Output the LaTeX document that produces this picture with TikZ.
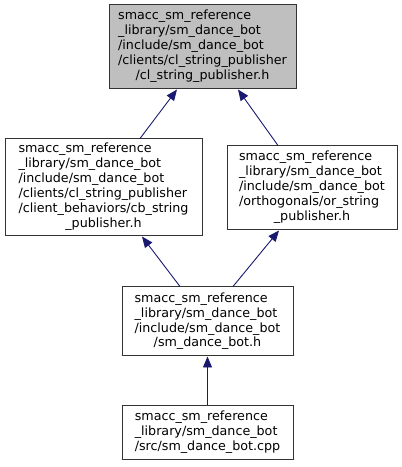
\documentclass[tikz,border=0pt]{standalone}
\usepackage{fontspec}
\setmainfont{DejaVu Sans}
\usepackage{xcolor}
\usepackage{tikz}
\usetikzlibrary{arrows.meta, positioning, calc}

\definecolor{edgeblue}{RGB}{25,25,112}
\definecolor{topgray}{RGB}{191,191,191}

% lines flush left, last line centred
\newcommand{\fname}[2]{\begin{tabular}{@{}l@{}}#1\\\multicolumn{1}{@{}c@{}}{#2}\end{tabular}}

\tikzset{
    filebox/.style={draw=black!80, line width=1pt, fill=white, inner sep=0pt,
        font=\fontsize{12.7}{15}\selectfont},
    incedge/.style={draw=edgeblue, line width=0.9pt, -{Triangle[length=11pt, width=9pt]}}
}

\begin{document}
\begin{tikzpicture}[x=1pt, y=1pt]
        \useasboundingbox (0,0) rectangle (402,467);

        % Top row
        \node[filebox, fill=topgray, minimum width=187pt, minimum height=84pt] (clpub) at (202.5, 420)
            {\fname{smacc\_sm\_reference\\\_library/sm\_dance\_bot\\/include/sm\_dance\_bot\\/clients/cl\_string\_publisher}{/cl\_string\_publisher.h}};

        % Second row
        \node[filebox, minimum width=197pt, minimum height=97pt] (cbpub) at (103.5, 279.5)
            {\fname{smacc\_sm\_reference\\\_library/sm\_dance\_bot\\/include/sm\_dance\_bot\\/clients/cl\_string\_publisher\\/client\_behaviors/cb\_string}{\_publisher.h}};
        \node[filebox, minimum width=170pt, minimum height=84pt] (orpub) at (312, 279)
            {\fname{smacc\_sm\_reference\\\_library/sm\_dance\_bot\\/include/sm\_dance\_bot\\/orthogonals/or\_string}{\_publisher.h}};

        % Third and fourth rows
        \node[filebox, minimum width=171pt, minimum height=69pt] (dbh) at (207.5, 145.5)
            {\fname{smacc\_sm\_reference\\\_library/sm\_dance\_bot\\/include/sm\_dance\_bot}{/sm\_dance\_bot.h}};
        \node[filebox, minimum width=171pt, minimum height=54pt] (dbcpp) at (207.5, 34)
            {\fname{smacc\_sm\_reference\\\_library/sm\_dance\_bot}{/src/sm\_dance\_bot.cpp}};

        % Include edges
        \draw[incedge] ([xshift=36.5pt]cbpub.north) -- ([xshift=-25.5pt]clpub.south);
        \draw[incedge] ([xshift=-34pt]orpub.north) -- ([xshift=35.5pt]clpub.south);
        \draw[incedge] ([xshift=-27.5pt]dbh.north) -- ([xshift=38.5pt]cbpub.south);
        \draw[incedge] ([xshift=25.5pt]dbh.north) -- ([xshift=-33pt]orpub.south);
        \draw[incedge] (dbcpp.north) -- (dbh.south);
    \end{tikzpicture}
\end{document}
